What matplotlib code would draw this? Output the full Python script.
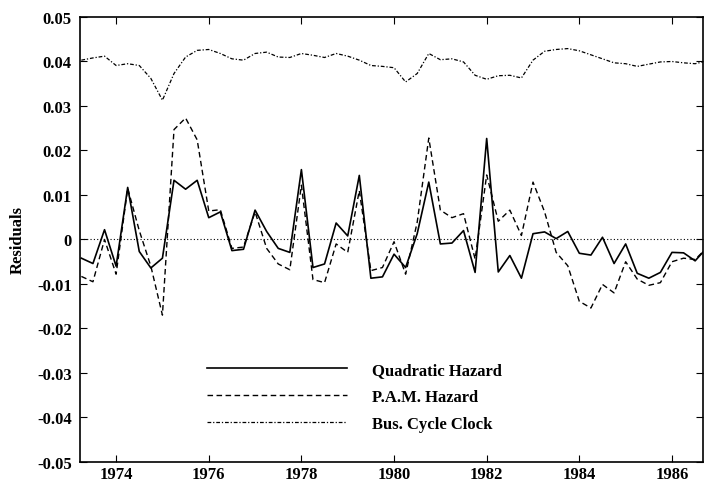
import numpy as np
import matplotlib
matplotlib.use("Agg")
import matplotlib.pyplot as plt

# trimestres 1973.25 .. 1986.75
years = np.arange(1973.25, 1986.76, 0.25)

quadratic = [-0.0042, -0.0054, 0.0022, -0.0060, 0.0117, -0.0027, -0.0064, -0.0042,
             0.0133, 0.0113, 0.0133, 0.0049, 0.0062, -0.0025, -0.0022, 0.0066,
             0.0018, -0.0020, -0.0029, 0.0157, -0.0063, -0.0055, 0.0037, 0.0008,
             0.0144, -0.0087, -0.0084, -0.0033, -0.0063, 0.0013, 0.0129, -0.0010,
             -0.0008, 0.0020, -0.0074, 0.0227, -0.0073, -0.0036, -0.0087, 0.0013,
             0.0017, 0.0002, 0.0018, -0.0031, -0.0035, 0.0005, -0.0054, -0.0010,
             -0.0076, -0.0087, -0.0074, -0.0029, -0.0030, -0.0048, -0.0019]

pam = [-0.0083, -0.0095, 0.0000, -0.0078, 0.0115, 0.0020, -0.0060, -0.0170,
       0.0247, 0.0273, 0.0224, 0.0064, 0.0067, -0.0020, -0.0017, 0.0062,
       -0.0020, -0.0055, -0.0068, 0.0122, -0.0090, -0.0097, -0.0010, -0.0029,
       0.0110, -0.0070, -0.0063, -0.0005, -0.0078, 0.0039, 0.0228, 0.0066,
       0.0049, 0.0058, -0.0044, 0.0145, 0.0041, 0.0066, 0.0009, 0.0129,
       0.0062, -0.0029, -0.0059, -0.0139, -0.0154, -0.0101, -0.0120, -0.0050,
       -0.0089, -0.0103, -0.0097, -0.0050, -0.0042, -0.0045, -0.0019]

clock = [0.0403, 0.0408, 0.0412, 0.0391, 0.0395, 0.0391, 0.0362, 0.0313,
         0.0373, 0.0410, 0.0425, 0.0427, 0.0418, 0.0406, 0.0403, 0.0418,
         0.0421, 0.0410, 0.0409, 0.0418, 0.0414, 0.0409, 0.0418, 0.0412,
         0.0403, 0.0391, 0.0389, 0.0386, 0.0354, 0.0373, 0.0418, 0.0404,
         0.0406, 0.0399, 0.0369, 0.0360, 0.0368, 0.0369, 0.0363, 0.0403,
         0.0423, 0.0427, 0.0429, 0.0424, 0.0415, 0.0406, 0.0397, 0.0395,
         0.0389, 0.0394, 0.0399, 0.0400, 0.0397, 0.0395, 0.0401]

year_ticks = [1974, 1976, 1978, 1980, 1982, 1984, 1986]
y_ticks = [-0.05, -0.04, -0.03, -0.02, -0.01, 0, 0.01, 0.02, 0.03, 0.04, 0.05]
y_labels = ["-0.05", "-0.04", "-0.03", "-0.02", "-0.01", "0",
            "0.01", "0.02", "0.03", "0.04", "0.05"]

plt.rcParams['font.family'] = ['Liberation Serif', 'DejaVu Serif']
plt.rcParams['font.weight'] = 'bold'

fig = plt.figure(figsize=(7.04, 4.85), dpi=100)
ax = fig.add_axes([0.1136, 0.0454, 0.885, 0.9175])

ax.axhline(0, color="black", linestyle=(0, (1, 2)), linewidth=0.8)
ax.plot(years, quadratic, color="black", linewidth=1.2, label="Quadratic Hazard")
ax.plot(years, pam, color="black", linewidth=1.0, linestyle=(0, (4, 2.5)), label="P.A.M. Hazard")
ax.plot(years, clock, color="black", linewidth=0.9, linestyle=(0, (3, 1.5, 1, 1.5)),
        label="Bus. Cycle Clock")

ax.set_xlim(1973.22, 1986.67)
ax.set_ylim(-0.05, 0.05)
ax.set_xticks(year_ticks)
ax.set_xticklabels([str(y) for y in year_ticks], fontsize=12)
ax.set_yticks(y_ticks)
ax.set_yticklabels(y_labels, fontsize=12)
ax.tick_params(direction="in", top=True, right=True, length=5)
ax.tick_params(axis="y", pad=6)
ax.tick_params(axis="x", pad=3)
ax.set_ylabel("Residuals", fontsize=12, fontweight="bold", labelpad=8)

for s in ax.spines.values():
    s.set_linewidth(1.2)

ax.legend(loc="center left", bbox_to_anchor=(0.191, 0.146), frameon=False,
          fontsize=12, handlelength=8.4, handletextpad=1.5, labelspacing=0.66,
          borderpad=0)

fig.savefig("out.png", dpi=100)
